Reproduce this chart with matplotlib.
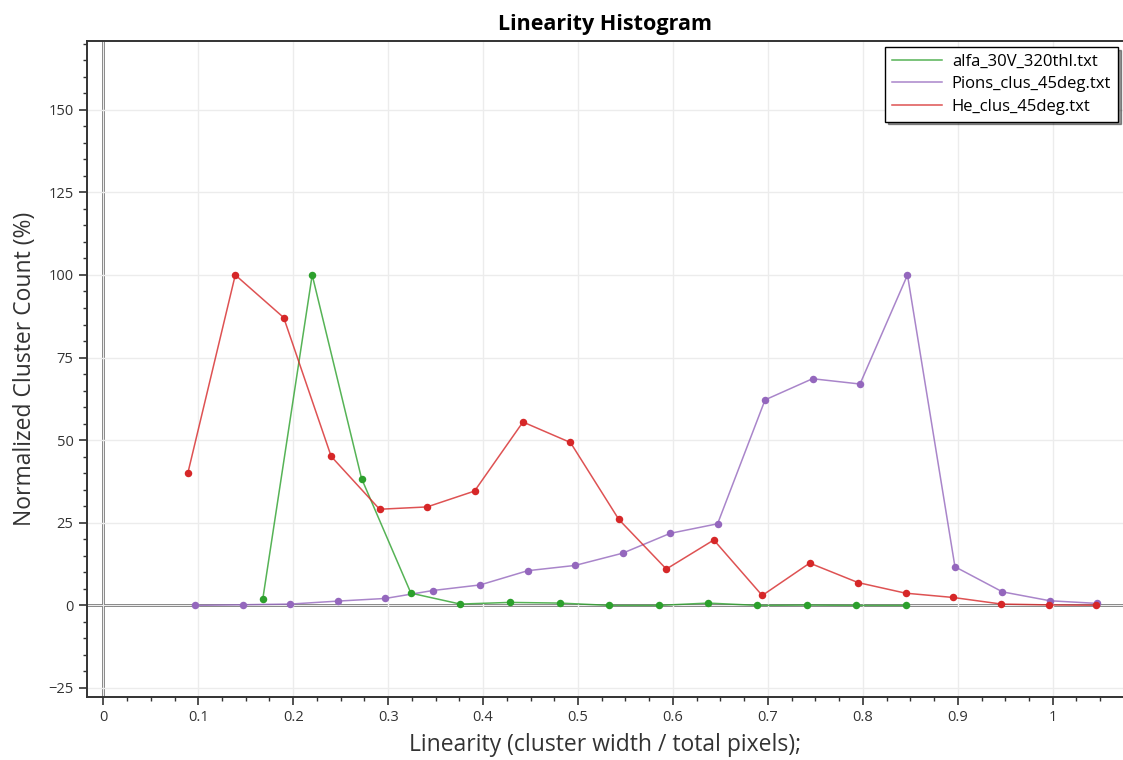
import matplotlib
matplotlib.use("Agg")
import matplotlib.pyplot as plt
from matplotlib.ticker import MultipleLocator, FuncFormatter

plt.rcParams['font.family'] = ['Open Sans', 'DejaVu Sans']

# Linearity bins and normalized counts for each dataset
alfa_x = [0.168, 0.220, 0.272, 0.324, 0.376, 0.428, 0.481, 0.533, 0.585,
          0.637, 0.689, 0.741, 0.793, 0.845]
alfa_y = [2.0, 100, 38.4, 3.7, 0.4, 0.9, 0.7, 0, 0, 0.7, 0, 0.1, 0, 0]

pions_x = [0.097, 0.147, 0.197, 0.247, 0.297, 0.347, 0.397, 0.447, 0.497, 0.547,
           0.597, 0.647, 0.697, 0.747, 0.797, 0.847, 0.897, 0.947, 0.997, 1.047]
pions_y = [0, 0.2, 0.4, 1.3, 2.1, 4.5, 6.2, 10.5, 12.1, 15.8,
           21.8, 24.7, 62.2, 68.6, 67.0, 100, 11.7, 4.1, 1.4, 0.6]

he_x = [0.089, 0.139, 0.190, 0.240, 0.291, 0.341, 0.391, 0.442, 0.492, 0.543,
        0.593, 0.643, 0.694, 0.744, 0.795, 0.845, 0.895, 0.946, 0.996, 1.046]
he_y = [40.0, 100, 87.1, 45.1, 29.1, 29.8, 34.6, 55.5, 49.3, 26.0,
        11.0, 19.8, 3.0, 12.8, 6.9, 3.7, 2.4, 0.4, 0.15, 0.06]

series = [
    ("alfa_30V_320thl.txt", alfa_x, alfa_y, "#2ca02c"),
    ("Pions_clus_45deg.txt", pions_x, pions_y, "#9467bd"),
    ("He_clus_45deg.txt", he_x, he_y, "#d62728"),
]

fig = plt.figure(figsize=(11.23, 7.6), dpi=100)
ax = fig.add_axes([0.0772, 0.083, 0.9228, 0.863])

ax.set_xlim(-0.0175, 1.074)
ax.set_ylim(-27.7, 170.8)

ax.grid(True, which='major', color='#ececec', linewidth=1.0, zorder=0)
ax.axhline(0, color='#484848', linewidth=1.8, zorder=1)
ax.axvline(0, color='#484848', linewidth=1.8, zorder=1)

for label, xs, ys, col in series:
    ax.plot(xs, ys, color=col, linewidth=1.1, alpha=0.8, zorder=3, label=label)
    ax.plot(xs, ys, linestyle='none', marker='o', markersize=5.4,
            color=col, markeredgewidth=0, zorder=4)

ax.xaxis.set_major_locator(MultipleLocator(0.1))
ax.xaxis.set_minor_locator(MultipleLocator(0.025))
ax.yaxis.set_major_locator(MultipleLocator(25))
ax.yaxis.set_minor_locator(MultipleLocator(5))
ax.xaxis.set_major_formatter(FuncFormatter(lambda v, p: f"{v:.1f}".rstrip('0').rstrip('.') if abs(v) > 1e-9 else "0"))

ax.tick_params(axis='both', which='major', direction='out', length=6, width=1.2,
               color='#333333', labelsize=10.5, labelcolor='#333333')
ax.tick_params(axis='both', which='minor', direction='out', length=3, width=1.0,
               color='#333333')

for side in ('top', 'left', 'bottom'):
    ax.spines[side].set_color('#333333')
    ax.spines[side].set_linewidth(1.4)
ax.spines['right'].set_visible(False)

ax.set_title("Linearity Histogram", fontsize=15.5, fontweight='bold', pad=8)
ax.set_xlabel("Linearity (cluster width / total pixels);", fontsize=16.5,
              color='#333333', labelpad=6)
ax.set_ylabel("Normalized Cluster Count (%)", fontsize=16.5, color='#333333',
              labelpad=8)

leg = ax.legend(loc='upper right', bbox_to_anchor=(0.995, 0.991),
                borderaxespad=0, fancybox=False, framealpha=1,
                edgecolor='black', fontsize=12, handlelength=3.0,
                shadow={'color': 'black', 'alpha': 0.4},
                labelspacing=0.4, borderpad=0.4, handletextpad=0.6)
leg.get_frame().set_linewidth(1.0)

fig.savefig("out.png", dpi=100)
